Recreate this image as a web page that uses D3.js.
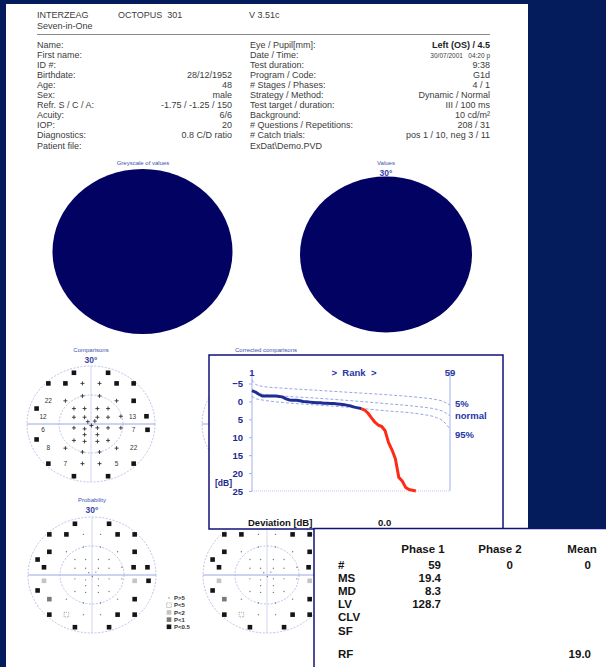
<!DOCTYPE html>
<html><head><meta charset="utf-8">
<script src="https://cdn.jsdelivr.net/npm/d3@7"></script>
<style>html,body{margin:0;padding:0;background:#041c5c;} svg{display:block}</style>
</head><body>
<svg id="chart" width="606" height="667"></svg>
<script>
// ---------- report header ----------
const patientLabels = ["Name:", "First name:", "ID #:", "Birthdate:", "Age:", "Sex:", "Refr. S / C / A:", "Acuity:", "IOP:", "Diagnostics:", "Patient file:"];
const patientValues = ["", "", "", "28/12/1952", "48", "male", "-1.75 / -1.25 / 150", "6/6", "20", "0.8 C/D ratio", ""];
const testLabels = ["Eye / Pupil[mm]:", "Date / Time:", "Test duration:", "Program / Code:", "# Stages / Phases:", "Strategy / Method:", "Test target / duration:", "Background:", "# Questions / Repetitions:", "# Catch trials:", "ExDat\\Demo.PVD"];
const testValues = ["Left (OS) / 4.5", "30/07/2001   04:20 p", "9:38", "G1d", "4 / 1", "Dynamic / Normal", "III / 100 ms", "10 cd/m\u00B2", "208 / 31", "pos 1 / 10, neg 3 / 11", ""];

// ---------- G1 test locations (degrees) ----------
const locX = [-8, 8, -20, -12, -4, 4, 12, 20, -20, -12, 12, 20, -25.5, -22.5, 14, 19.5, 26, -22.5, 14, 20, 26.5, -25.5, -20, -12, 12, 20, -20, -12, -4, 4, 12, 20, -8, 8,
  -4, 4, -8, -3, 3, 8, -8, -3, 3, 8, -1.5, 1.8, 0.2, -8, -3, 3, 8, -3, 3, -8, -3, 3, 8, -4, 4];
const locY = [26.5, 26.5, 21, 21, 21, 21, 21, 21, 12, 12, 12, 12, 8, 4, 4, 4, 4, -3, -2, -3, -3, -8, -12.5, -12.5, -12.5, -12.5, -20.5, -20.5, -20.5, -20.5, -20.5, -20.5, -27, -27,
  14.5, 14.5, 8, 8, 8, 8, 3.5, 3.5, 3.5, 3.5, 1.2, 1.5, -0.8, -2, -2.5, -2, -2, -5.5, -5.5, -8.5, -9, -9, -8.5, -14.5, -14.5];
// comparison with age norm: dB loss, "+" = normal, "■" = beyond range
const comparisons = ["■", "■", "■", "■", "+", "+", "■", "■", "22", "+", "+", "■", "■", "12", "+", "13", "■", "6", "+", "7", "■", "■", "8", "+", "+", "22", "■", "7", "+", "+", "5", "■", "■", "■",
  "+", "+", "+", "+", "+", "+", "+", "+", "+", "+", "+", "+", "+", "+", "+", "+", "+", "+", "+", "+", "+", "+", "+", "+", "+"];
const probability = ["<0.5", "<0.5", "<0.5", "<0.5", ">5", ">5", "<0.5", "<0.5", "<0.5", ">5", ">5", "<0.5", "<0.5", "<0.5", ">5", "<0.5", "<0.5", "<2", ">5", "<2", "<0.5", "<0.5", "<1", ">5", ">5", "<0.5", "<0.5", "<5", ">5", ">5", "<0.5", "<0.5", "<0.5", "<0.5",
  ">5", ">5", ">5", ">5", ">5", ">5", ">5", ">5", ">5", ">5", ">5", ">5", ">5", ">5", ">5", ">5", ">5", ">5", ">5", ">5", ">5", ">5", ">5", ">5", ">5"];
const probLegend = [">5", "<5", "<2", "<1", "<0.5"];

// ---------- cumulative defect (Bebie) curve ----------
const deviation = [-3.0, -2.6, -2.0, -1.5, -1.5, -1.5, -1.5, -1.5, -1.4, -1.2, -0.7, -0.4, -0.3, -0.3, -0.2, 0.0, 0.1, 0.2, 0.3, 0.4,
  0.4, 0.5, 0.5, 0.6, 0.6, 0.7, 0.8, 0.9, 1.1, 1.3, 1.6, 1.8, 2.0, 2.4, 3.3, 4.6, 5.8, 6.6, 7.0, 8.2,
  11.5, 13.5, 16.0, 21.2, 22.2, 24.0, 24.6, 24.8, 25.0];
const firstDefectRank = 33;
const bandRanks = [1, 2, 4, 10, 20, 30, 40, 50, 55, 57, 58, 59];
const band5 = [-6.0, -4.8, -4.2, -3.7, -3.1, -2.5, -1.9, -1.1, -0.5, 0.0, 0.5, 1.0];
const bandNormal = [-3.3, -2.4, -2.0, -1.5, -0.9, -0.2, 0.6, 1.5, 2.2, 2.8, 3.4, 4.0];
const band95 = [-1.5, -0.8, -0.4, 0.3, 1.0, 1.7, 2.6, 3.5, 4.5, 5.5, 6.5, 7.8];
const dbTicks = [-5, 0, 5, 10, 15, 20, 25];

// ---------- indices table ----------
const statRows = ["#", "MS", "MD", "LV", "CLV", "SF", "RF"];
const statCols = ["Phase 1", "Phase 2", "Mean"];
const phase1 = ["59", "19.4", "8.3", "128.7", "", "", ""];
const phase2 = ["0", "", "", "", "", "", ""];
const meanCol = ["0", "", "", "", "", "", "19.0"];

const FONT = "'Liberation Sans', Arial, sans-serif";
const svg = d3.select("#chart").style("font-family", FONT);

svg.append("rect").attr("width", 606).attr("height", 667).attr("fill", "#041c5c");
svg.append("rect").attr("x", 6).attr("y", 4).attr("width", 522).attr("height", 663).attr("fill", "#ffffff");

// header
const hdr = svg.append("g").attr("font-size", 9).attr("fill", "#3c3c3c");
hdr.append("text").attr("x", 37).attr("y", 18).text("INTERZEAG");
hdr.append("text").attr("x", 118).attr("y", 18).attr("xml:space", "preserve").text("OCTOPUS  301");
hdr.append("text").attr("x", 249).attr("y", 18).text("V 3.51c");
hdr.append("text").attr("x", 37).attr("y", 29).text("Seven-in-One");
svg.append("line").attr("x1", 37).attr("x2", 490).attr("y1", 34.5).attr("y2", 34.5).attr("stroke", "#8a8a8a").attr("stroke-width", 1);

const rowY = i => 48 + i * 10.05;
hdr.selectAll(".pl").data(patientLabels).join("text").attr("x", 37).attr("y", (d, i) => rowY(i)).text(d => d);
hdr.selectAll(".pv").data(patientValues).join("text").attr("x", 232).attr("y", (d, i) => rowY(i)).attr("text-anchor", "end").text(d => d);
hdr.selectAll(".tl").data(testLabels).join("text").attr("x", 250).attr("y", (d, i) => rowY(i)).text(d => d);
hdr.selectAll(".tv").data(testValues).join("text").attr("x", 490).attr("y", (d, i) => rowY(i)).attr("text-anchor", "end")
  .attr("font-weight", (d, i) => i === 0 ? "bold" : null)
  .attr("fill", (d, i) => i === 0 ? "#222" : null)
  .attr("font-size", (d, i) => i === 1 ? 6.5 : null)
  .attr("xml:space", "preserve")
  .text(d => d);

// plot captions
const titleColor = "#4050b0";
function plotTitle(x, y, t, sub) {
  svg.append("text").attr("x", x).attr("y", y).attr("text-anchor", "middle").attr("font-size", 6).attr("fill", titleColor).text(t);
  if (sub) svg.append("text").attr("x", x).attr("y", y + 11).attr("text-anchor", "middle").attr("font-size", 8.5).attr("font-weight", "bold").attr("fill", "#3444a8").text(sub);
}
plotTitle(143, 165, "Greyscale of values");
svg.append("ellipse").attr("cx", 142.5).attr("cy", 251.5).attr("rx", 90).attr("ry", 82.5).attr("fill", "#020263");
plotTitle(386, 165, "Values", "30\u00B0");
svg.append("ellipse").attr("cx", 386).attr("cy", 254.5).attr("rx", 86).attr("ry", 78).attr("fill", "#020263");

// visual field map
function drawField(cx, cy, mode) {
  const g = svg.append("g");
  const sx = d3.scaleLinear([-30, 30], [cx - 64, cx + 64]);
  const sy = d3.scaleLinear([-30, 30], [cy + 58, cy - 58]);
  g.append("line").attr("x1", sx(-30)).attr("x2", sx(30)).attr("y1", cy).attr("y2", cy).attr("stroke", "#9aa6e0").attr("stroke-width", 1);
  g.append("line").attr("x1", cx).attr("x2", cx).attr("y1", sy(30)).attr("y2", sy(-30)).attr("stroke", "#c5cbee").attr("stroke-width", 0.8);
  [30, 15].forEach(r => {
    g.append("ellipse").attr("cx", cx).attr("cy", cy).attr("rx", sx(r) - cx).attr("ry", cy - sy(r))
      .attr("fill", "none").attr("stroke", "#a9b2e2").attr("stroke-width", 0.8).attr("stroke-dasharray", "2,1.5");
  });
  locX.forEach((lx, i) => {
    const px = sx(lx), py = sy(locY[i]);
    if (mode === "comp") {
      const v = comparisons[i];
      if (v === "■") g.append("rect").attr("x", px - 2.3).attr("y", py - 2.3).attr("width", 4.6).attr("height", 4.6).attr("fill", "#151515");
      else if (v === "+") g.append("path").attr("d", `M${px - 2},${py}H${px + 2}M${px},${py - 2}V${py + 2}`).attr("stroke", "#333").attr("stroke-width", 0.9);
      else g.append("text").attr("x", px).attr("y", py + 2.3).attr("text-anchor", "middle").attr("font-size", 6.5).attr("fill", "#333").text(v);
    } else {
      probMark(g, px, py, probability[i]);
    }
  });
}
function probMark(g, px, py, p) {
  if (p === ">5") { g.append("circle").attr("cx", px).attr("cy", py).attr("r", 0.7).attr("fill", "#777"); return; }
  const r = g.append("rect").attr("x", px - 2.3).attr("y", py - 2.3).attr("width", 4.6).attr("height", 4.6);
  if (p === "<5") r.attr("fill", "none").attr("stroke", "#8a8a8a").attr("stroke-width", 0.8).attr("stroke-dasharray", "1,1");
  else if (p === "<2") r.attr("fill", "#c4c4c4");
  else if (p === "<1") r.attr("fill", "#7a7a7a");
  else r.attr("fill", "#151515");
}

plotTitle(91, 352, "Comparisons", "30\u00B0");
drawField(91, 424, "comp");
plotTitle(266, 352, "Corrected comparisons");
drawField(266, 424, "comp");
plotTitle(92, 502, "Probability", "30\u00B0");
drawField(92, 575, "prob");
drawField(267, 575, "prob");

// probability legend
const lg = svg.append("g");
probLegend.forEach((p, i) => {
  const y = 598 + i * 7.2;
  probMark(lg, 169, y, p);
  lg.append("text").attr("x", 174).attr("y", y + 2.2).attr("font-size", 6).attr("font-weight", "bold").attr("fill", "#333").text("P" + p);
});

// ---------- Bebie curve panel ----------
svg.append("rect").attr("x", 209).attr("y", 355).attr("width", 294).attr("height", 174)
  .attr("fill", "#fff").attr("stroke", "#10127a").attr("stroke-width", 1.5);
const xR = d3.scaleLinear([1, 59], [252, 450]);
const yD = d3.scaleLinear([-5, 25], [383.5, 491]);
const bb = svg.append("g");
bb.append("line").attr("x1", xR(1)).attr("x2", xR(1)).attr("y1", 371).attr("y2", yD(25)).attr("stroke", "#9fb0ee");
bb.append("line").attr("x1", xR(59)).attr("x2", xR(59)).attr("y1", 371).attr("y2", yD(25)).attr("stroke", "#9fb0ee");
bb.append("line").attr("x1", xR(1)).attr("x2", xR(59)).attr("y1", yD(25)).attr("y2", yD(25)).attr("stroke", "#c3c9ea").attr("stroke-dasharray", "1,1");
const yAxis = bb.append("g").attr("transform", `translate(${xR(1)},0)`)
  .call(d3.axisLeft(yD).tickValues(dbTicks).tickSize(3).tickPadding(6));
yAxis.select(".domain").remove();
yAxis.selectAll("line").attr("stroke", "#9fb0ee");
yAxis.selectAll("text").attr("font-family", FONT).attr("font-size", 9.5).attr("font-weight", "bold").attr("fill", "#1c2a8e");
bb.append("text").attr("x", 232).attr("y", 485.5).attr("text-anchor", "end").attr("font-size", 8.5).attr("font-weight", "bold").attr("fill", "#1c2a8e").text("[dB]");
const topLbl = bb.append("g").attr("font-size", 9.5).attr("font-weight", "bold").attr("fill", "#2636a8");
topLbl.append("text").attr("x", xR(1)).attr("y", 376).attr("text-anchor", "middle").text("1");
topLbl.append("text").attr("x", xR(59)).attr("y", 376).attr("text-anchor", "middle").text("59");
topLbl.append("text").attr("x", 354).attr("y", 376).attr("text-anchor", "middle").attr("xml:space", "preserve").text(">  Rank  >");
topLbl.append("text").attr("x", 455).attr("y", 407).text("5%");
topLbl.append("text").attr("x", 455).attr("y", 419).text("normal");
topLbl.append("text").attr("x", 455).attr("y", 438).text("95%");

const bandLine = d3.line().x((d, i) => xR(bandRanks[i])).y(d => yD(d)).curve(d3.curveMonotoneX);
[band5, bandNormal, band95].forEach(b => {
  bb.append("path").attr("d", bandLine(b)).attr("fill", "none").attr("stroke", "#8d9be0").attr("stroke-width", 0.9).attr("stroke-dasharray", "3,2");
});
const devLine = d3.line().x(d => xR(d.r)).y(d => yD(d.v));
const devPts = deviation.map((v, i) => ({ r: i + 1, v }));
bb.append("path").attr("d", devLine(devPts.filter(d => d.r >= firstDefectRank)))
  .attr("fill", "none").attr("stroke", "#ff2a16").attr("stroke-width", 3).attr("stroke-linejoin", "round");
bb.append("path").attr("d", devLine(devPts.filter(d => d.r <= firstDefectRank)))
  .attr("fill", "none").attr("stroke", "#1f2c94").attr("stroke-width", 3).attr("stroke-linejoin", "round");
bb.append("text").attr("x", 248).attr("y", 526).attr("font-size", 9.5).attr("font-weight", "bold").attr("fill", "#111").text("Deviation [dB]");
bb.append("text").attr("x", 378).attr("y", 526).attr("font-size", 9.5).attr("font-weight", "bold").attr("fill", "#111").text("0.0");

// ---------- indices table ----------
svg.append("rect").attr("x", 314).attr("y", 528.5).attr("width", 300).attr("height", 150)
  .attr("fill", "#fff").attr("stroke", "#10127a").attr("stroke-width", 1.5);
const st = svg.append("g").attr("font-size", 11.5).attr("font-weight", "bold").attr("fill", "#151515");
const colX = [423, 500, 582];
statCols.forEach((c, j) => st.append("text").attr("x", colX[j]).attr("y", 553).attr("text-anchor", "middle").text(c));
const statY = [569, 582, 595, 608, 621, 635, 658];
statRows.forEach((r, i) => st.append("text").attr("x", 338).attr("y", statY[i]).text(r));
const valRight = [441, 513, 591];
[phase1, phase2, meanCol].forEach((col, j) => {
  col.forEach((v, i) => { if (v) st.append("text").attr("x", valRight[j]).attr("y", statY[i]).attr("text-anchor", "end").text(v); });
});
</script>
</body></html>
